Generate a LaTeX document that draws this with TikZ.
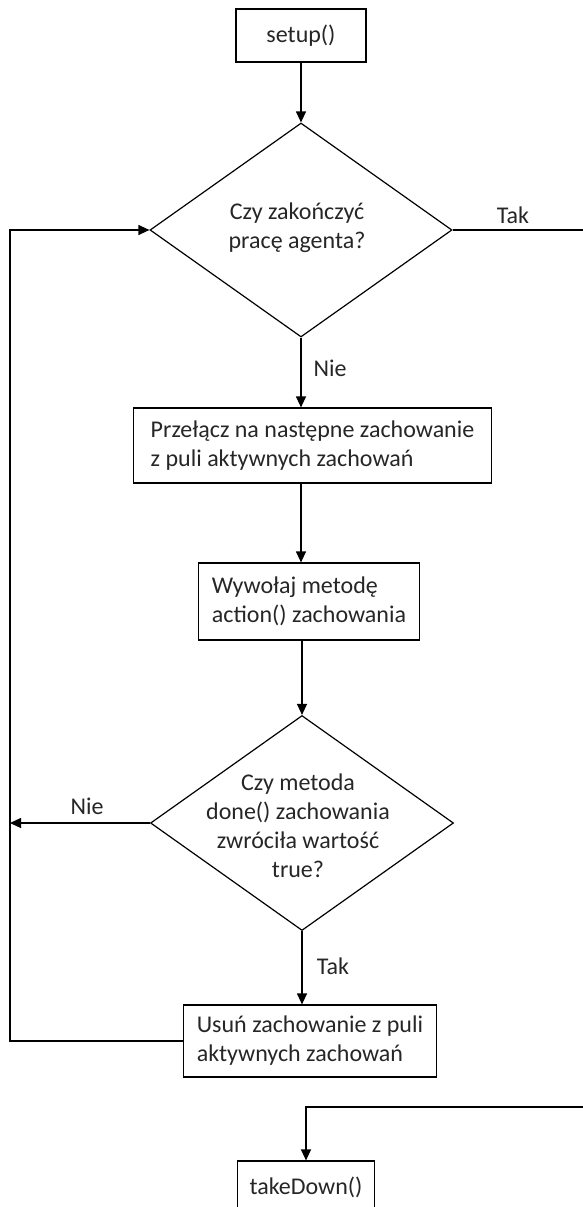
\documentclass[tikz,border=0pt]{standalone}
\usepackage{fontspec}
\setmainfont{Carlito}
\usetikzlibrary{shapes.geometric,arrows.meta}
\begin{document}
\begin{tikzpicture}[x=1pt,y=-1pt,
  line width=1.2pt,
  every node/.style={font=\fontsize{24}{29}\selectfont, text=black!85},
  procbox/.style={draw=black, rectangle, align=left, inner ysep=0pt},
  decision/.style={draw=black, diamond, inner sep=0pt},
  arr/.style={-{Triangle[length=11pt,width=10pt]}},
  lbl/.style={inner sep=0pt}]
\useasboundingbox (0,0) rectangle (583,1207);
\clip (0,0) rectangle (583,1207);

% process boxes
\node[procbox, minimum width=130pt, minimum height=53pt, align=center] (setup) at (301,35.5) {setup()};
\node[procbox, inner xsep=17pt, minimum height=75pt] (b2) at (312.5,445.5)
  {Przełącz na następne zachowanie\\z puli aktywnych zachowań};
\node[procbox, inner xsep=13.5pt, minimum height=77pt] (b3) at (309,601.5)
  {Wywołaj metodę\\action() zachowania};
\node[procbox, inner xsep=13pt, minimum height=72pt] (b4) at (310,1041)
  {Usuń zachowanie z puli\\aktywnych zachowań};
\node[procbox, minimum width=137pt, minimum height=53pt, align=center] (td) at (306,1187.5) {takeDown()};

% decisions
\node[decision, minimum width=302pt, minimum height=214pt] (d1) at (301,230) {};
\node[align=center, inner sep=0pt] (q1) at (297,228) {Czy zakończyć\\pracę agenta?};
\node[decision, minimum width=303pt, minimum height=215pt] (d2) at (302,823) {};
\node[align=center, inner sep=0pt] (q2) at (298,826) {Czy metoda\\done() zachowania\\zwróciła wartość\\true?};

% branch labels
\node[lbl] (tak1) at (513,215) {Tak};
\node[lbl] (nie1) at (330,368) {Nie};
\node[lbl] (nie2) at (87,806) {Nie};
\node[lbl] (tak2) at (333,966) {Tak};

% routing points of the loops
\coordinate (ll) at (10,1041);
\coordinate (rr) at (600,1107);

% connectors
\draw[arr] (setup.south) -- (d1.north);
\draw[arr] (d1.south) -- (d1.south |- b2.north);
\draw[arr] (b2.south -| d1.south) -- (b3.north -| d1.south);
\draw[arr] (b3.south -| d2.north) -- (d2.north);
\draw[arr] (d2.south) -- (d2.south |- b4.north);
\draw[arr] (d2.west) -- (d2.west -| ll);
\draw[arr] (b4.west) -- (ll) |- (d1.west);
\draw[arr] (d1.east) -| (rr) -| (td.north);
\end{tikzpicture}
\end{document}
